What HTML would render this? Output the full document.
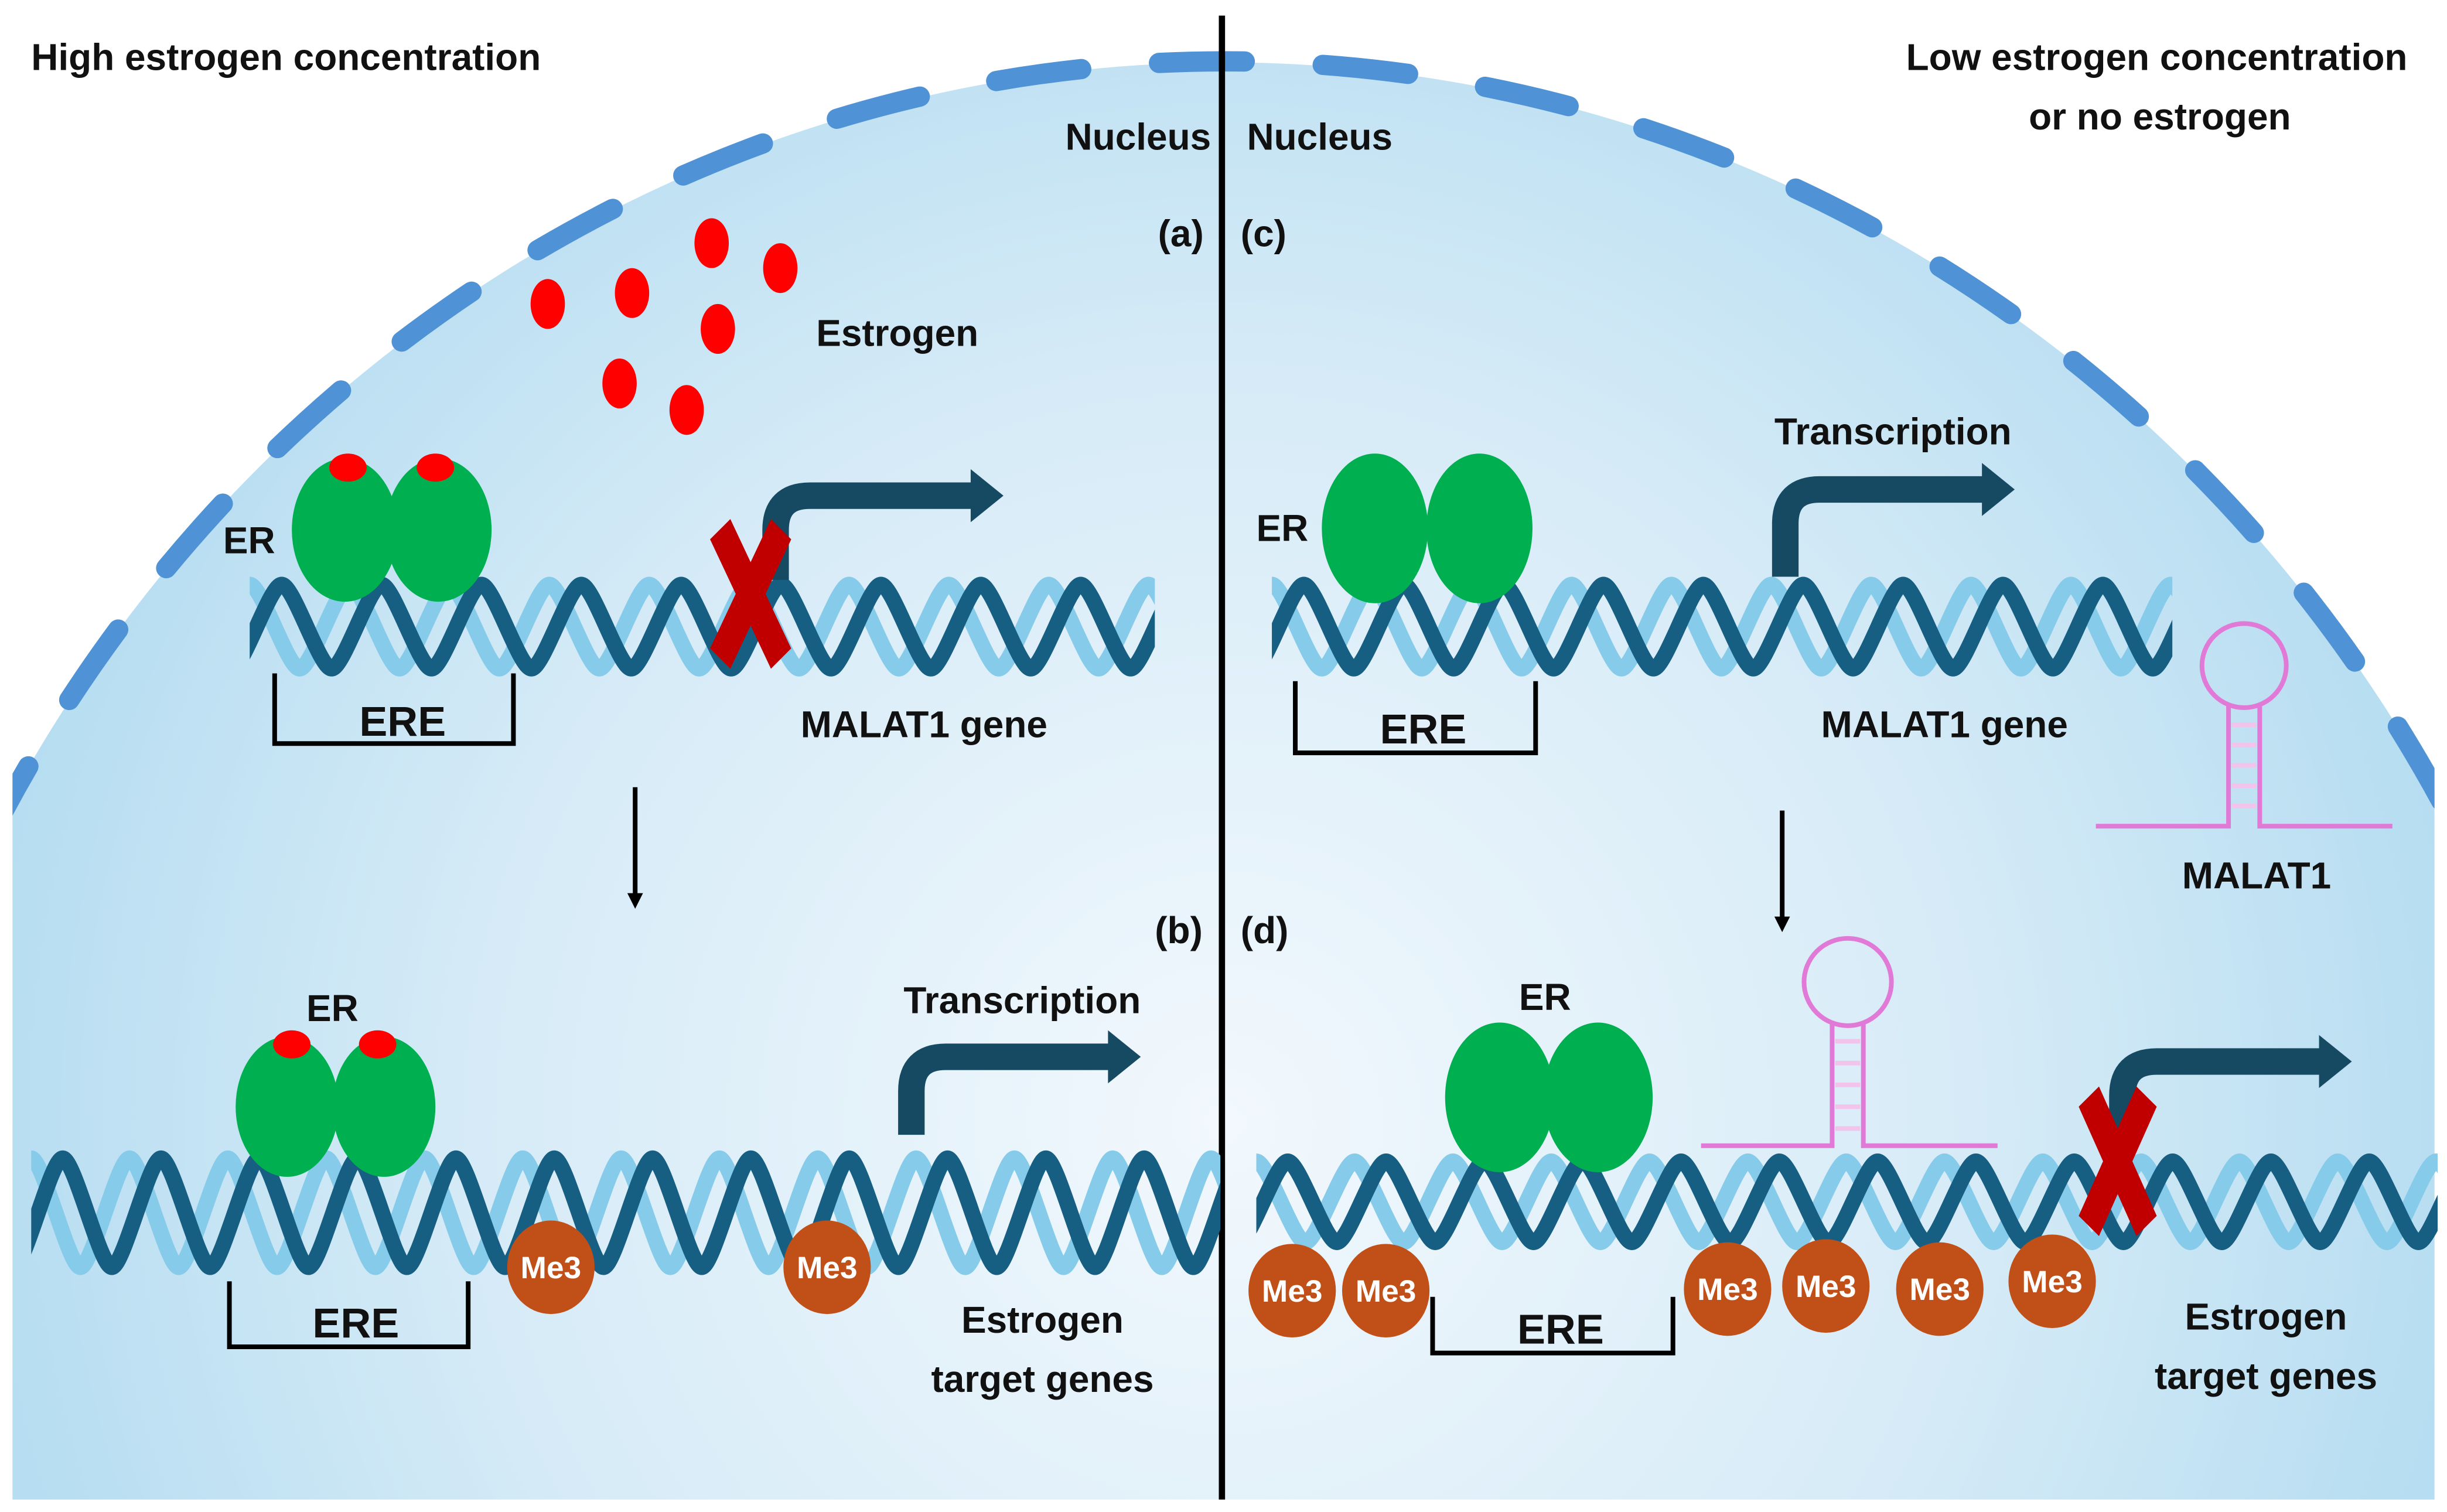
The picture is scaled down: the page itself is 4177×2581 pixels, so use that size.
<!DOCTYPE html>
<html><head><meta charset="utf-8">
<style>
html,body{margin:0;padding:0;background:#fff;overflow:hidden;width:4177px;height:2581px;}
svg{display:block;}
text{font-family:"Liberation Sans Narrow","Liberation Sans",sans-serif;font-weight:bold;fill:#111;}
</style></head>
<body>
<svg id="s" width="4177" height="2581" viewBox="0 0 1568 970" preserveAspectRatio="none" xmlns="http://www.w3.org/2000/svg">
<defs>
<radialGradient id="g" cx="785" cy="720" r="800" gradientUnits="userSpaceOnUse">
<stop offset="0" stop-color="#f2f8fd"/>
<stop offset="0.6" stop-color="#d6ebf7"/>
<stop offset="1" stop-color="#b6ddf1"/>
</radialGradient>
<clipPath id="c"><rect x="8" y="0" width="1552" height="962"/></clipPath>
<marker id="ah" markerWidth="10" markerHeight="10" refX="5" refY="5" orient="auto" markerUnits="userSpaceOnUse"><path d="M0,0 L10,5 L0,10 Z" fill="#000"/></marker>
</defs>
<g clip-path="url(#c)">
<ellipse cx="785" cy="980" rx="897" ry="940" fill="url(#g)"/>
<path d="M -8 540 A 793 440 0 0 1 1578 540" fill="none" stroke="none"/>
<path d="M -8 540 A 897 940 0 0 1 1578 540" fill="none" stroke="#4f93d6" stroke-width="13" stroke-linecap="round" stroke-dasharray="55 50"/>
</g>
<line x1="783" y1="10" x2="783" y2="962" stroke="#000" stroke-width="4"/>
<g id="helices"></g>

<text x="20" y="45" font-size="24">High estrogen concentration</text>
<text x="1382" y="45" font-size="24" text-anchor="middle">Low estrogen concentration</text>
<text x="1384" y="83" font-size="24" text-anchor="middle">or no estrogen</text>
<text x="776" y="96" font-size="24" text-anchor="end">Nucleus</text>
<text x="799" y="96" font-size="24">Nucleus</text>
<text x="742" y="158" font-size="24">(a)</text>
<text x="795" y="158" font-size="24">(c)</text>
<text x="740" y="605" font-size="24">(b)</text>
<text x="795" y="605" font-size="24">(d)</text>

<g fill="#f00">
<ellipse cx="351" cy="195" rx="11" ry="16"/><ellipse cx="405" cy="188" rx="11" ry="16"/>
<ellipse cx="456" cy="156" rx="11" ry="16"/><ellipse cx="500" cy="172" rx="11" ry="16"/>
<ellipse cx="460" cy="211" rx="11" ry="16"/><ellipse cx="397" cy="246" rx="11" ry="16"/>
<ellipse cx="440" cy="263" rx="11" ry="16"/>
</g>
<text x="523" y="222" font-size="24">Estrogen</text>

<text x="143" y="355" font-size="24">ER</text>
<text x="258" y="472" font-size="27" text-anchor="middle">ERE</text>
<path d="M176 432 V477 H329 V432" fill="none" stroke="#000" stroke-width="3"/>
<text x="513" y="473" font-size="24">MALAT1 gene</text>
<line x1="407" y1="505" x2="407" y2="578" stroke="#000" stroke-width="3" marker-end="url(#ah)"/>

<text x="213" y="655" font-size="24" text-anchor="middle">ER</text>
<path d="M147 822 V864 H300 V822" fill="none" stroke="#000" stroke-width="3"/>
<text x="228" y="858" font-size="27" text-anchor="middle">ERE</text>
<text x="655" y="650" font-size="24" text-anchor="middle">Transcription</text>
<text x="668" y="855" font-size="24" text-anchor="middle">Estrogen</text>
<text x="668" y="893" font-size="24" text-anchor="middle">target genes</text>

<text x="805" y="347" font-size="24">ER</text>
<path d="M830 437 V483 H984 V437" fill="none" stroke="#000" stroke-width="3"/>
<text x="912" y="477" font-size="27" text-anchor="middle">ERE</text>
<text x="1213" y="285" font-size="24" text-anchor="middle">Transcription</text>
<text x="1246" y="473" font-size="24" text-anchor="middle">MALAT1 gene</text>
<line x1="1142" y1="520" x2="1142" y2="593" stroke="#000" stroke-width="3" marker-end="url(#ah)"/>
<g fill="none" stroke="#e07ad6" stroke-width="3">
<circle cx="1438" cy="427" r="27"/>
<path d="M1428 452 V530 H1343 M1448 452 V530 H1533"/>
</g>
<g stroke="#f2c4ec" stroke-width="3"><line x1="1430" y1="465" x2="1446" y2="465"/><line x1="1430" y1="478" x2="1446" y2="478"/><line x1="1430" y1="491" x2="1446" y2="491"/><line x1="1430" y1="504" x2="1446" y2="504"/><line x1="1430" y1="517" x2="1446" y2="517"/></g>
<text x="1446" y="570" font-size="24" text-anchor="middle">MALAT1</text>

<text x="990" y="648" font-size="24" text-anchor="middle">ER</text>
<g fill="none" stroke="#e07ad6" stroke-width="3">
<circle cx="1184" cy="630" r="28"/>
<path d="M1174 655 V735 H1090 M1194 655 V735 H1280"/>
</g>
<g stroke="#f2c4ec" stroke-width="3"><line x1="1176" y1="668" x2="1192" y2="668"/><line x1="1176" y1="682" x2="1192" y2="682"/><line x1="1176" y1="696" x2="1192" y2="696"/><line x1="1176" y1="710" x2="1192" y2="710"/><line x1="1176" y1="724" x2="1192" y2="724"/></g>
<path d="M918 832 V868 H1072 V832" fill="none" stroke="#000" stroke-width="3"/>
<text x="1000" y="862" font-size="27" text-anchor="middle">ERE</text>
<text x="1452" y="853" font-size="24" text-anchor="middle">Estrogen</text>
<text x="1452" y="891" font-size="24" text-anchor="middle">target genes</text>
<g id="over"></g>
</svg>
<script>
var NS="http://www.w3.org/2000/svg";
function el(p,t,a){var e=document.createElementNS(NS,t);for(var k in a)e.setAttribute(k,a[k]);p.appendChild(e);return e;}
var H=document.getElementById('helices'),O=document.getElementById('over');
function strand(x0,x1,top,bot,P,off,color){
  var x=x0+off,up=true;var k=P*0.12;
  var d="M"+x+" "+top;
  while(x<x1){var nx=x+P/2;var y1=up?top:bot,y2=up?bot:top;
    d+=" C"+(x+k)+" "+y1+" "+(nx-k)+" "+y2+" "+nx+" "+y2;x=nx;up=!up;}
  el(H,'path',{d:d,fill:'none',stroke:color,'stroke-width':10});
}
function helix(x0,x1,top,bot,P){
  var cp=el(H,'clipPath',{id:'h'+x0+top});el(cp,'rect',{x:x0,y:top-6,width:x1-x0,height:bot-top+12});
  var gg=el(H,'g',{'clip-path':'url(#h'+x0+top+')'});
  var save=H;H=gg;
  strand(x0-P,x1,top+5,bot-5,P,0,'#86cbea');
  strand(x0-P,x1,top+5,bot-5,P,P*0.32,'#175f82');
  H=save;
}
helix(160,740,370,434,64);
helix(20,782,738,818,63);
helix(815,1392,370,434,64);
helix(805,1562,740,802,63);

function ER(cx1,cx2,cy,rx,ry){el(O,'ellipse',{cx:cx1,cy:cy,rx:rx,ry:ry,fill:'#00b050'});el(O,'ellipse',{cx:cx2,cy:cy,rx:rx,ry:ry,fill:'#00b050'});}
ER(221,281,340,34,46);
el(O,'ellipse',{cx:223,cy:300,rx:12,ry:9,fill:'#f00'});el(O,'ellipse',{cx:279,cy:300,rx:12,ry:9,fill:'#f00'});
ER(184,246,710,33,45);
el(O,'ellipse',{cx:187,cy:670,rx:12,ry:9,fill:'#f00'});el(O,'ellipse',{cx:242,cy:670,rx:12,ry:9,fill:'#f00'});
ER(881,948,339,34,48);
ER(961,1024,704,35,48);

function arrow(x,yb,yh,x2){
  el(O,'path',{d:"M"+x+" "+yb+" V"+(yh+22)+" Q"+x+" "+yh+" "+(x+22)+" "+yh+" H"+(x2-4),fill:'none',stroke:'#164a63','stroke-width':17});
  el(O,'path',{d:"M"+(x2-6)+" "+(yh-17)+" L"+(x2+15)+" "+yh+" L"+(x2-6)+" "+(yh+17)+" Z",fill:'#164a63'});
}
arrow(497,372,318,628);
arrow(584,728,678,716);
arrow(1144,370,314,1276);
arrow(1360,740,681,1492);

function X(cx,cy,w,h){
  var t=13;
  el(O,'path',{d:"M"+(cx-w/2)+" "+(cy-h/2+t)+" L"+(cx-w/2+t)+" "+(cy-h/2)+" L"+(cx+w/2)+" "+(cy+h/2-t)+" L"+(cx+w/2-t)+" "+(cy+h/2)+" Z",fill:'#c00000'});
  el(O,'path',{d:"M"+(cx+w/2)+" "+(cy-h/2+t)+" L"+(cx+w/2-t)+" "+(cy-h/2)+" L"+(cx-w/2)+" "+(cy+h/2-t)+" L"+(cx-w/2+t)+" "+(cy+h/2)+" Z",fill:'#c00000'});
}
X(481,381,52,96);
X(1357,745,50,96);

function me(cx,cy){el(O,'ellipse',{cx:cx,cy:cy,rx:28,ry:30,fill:'#c05018'});
 var t=el(O,'text',{x:cx,y:cy+7,'font-size':20,'text-anchor':'middle',style:'fill:#fff'});t.textContent='Me3';}
me(353,813);me(530,813);
[[828,828],[888,828],[1107,827],[1170,825],[1243,827],[1315,822]].forEach(function(p){me(p[0],p[1]);});
</script>
</body></html>
